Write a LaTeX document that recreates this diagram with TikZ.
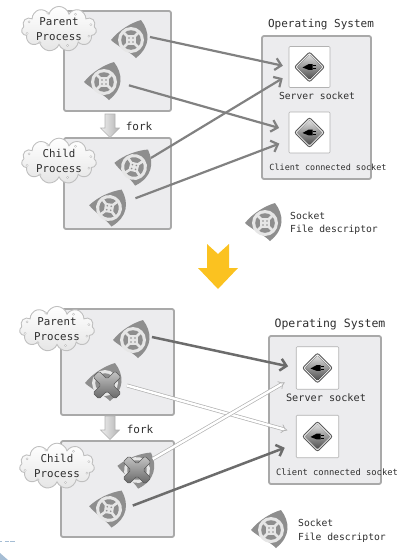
\documentclass[tikz,border=0pt]{standalone}
\usepackage{fontspec}
\setmonofont{DejaVu Sans Mono}
\usetikzlibrary{arrows.meta,shapes.symbols}
\definecolor{panelfill}{HTML}{ECECEE}
\definecolor{panelline}{HTML}{A9A9A9}
\definecolor{fdgray}{HTML}{8E8E8E}
\definecolor{fdlight}{HTML}{E6E6E6}
\definecolor{inkgray}{HTML}{2E2E2E}
\definecolor{linkgray}{HTML}{818181}
\definecolor{linkdark}{HTML}{6C6C6C}
\definecolor{orangearrow}{HTML}{FBC220}
\definecolor{cornerblue}{HTML}{A5BDD4}
\newcommand{\monosize}[1]{\fontsize{#1}{#1}\selectfont\ttfamily}
\tikzset{
  panel/.style={draw=panelline,line width=1.8pt,fill=panelfill,rounded corners=2pt},
  sockbox/.style={draw=gray!60,line width=.6pt,fill=white,rounded corners=1pt,inner sep=0pt,minimum size=41pt},
  procloud/.style={cloud,cloud puffs=11,cloud ignores aspect,draw=gray!50,line width=.9pt,top color=white,bottom color=gray!20,
    inner sep=0pt,minimum width=75pt,minimum height=43pt,align=center,text=inkgray,font=\monosize{10.8},
    execute at begin node={\baselineskip=15pt}},
  fdspot/.style={circle,inner sep=0pt,minimum size=38pt},
  txt/.style={text=inkgray,inner sep=0pt},
  link/.style={draw=linkgray,line width=2.2pt,-{Straight Barb[length=6pt,width=12pt]}},
  linkstrong/.style={link,draw=linkdark,line width=2.5pt},
  linkclosed/.style={draw=gray!60,line width=.7pt,double=white,double distance=2.4pt,-{Implies[length=7pt,width=13pt]}},
  cloudbeads/.pic={
    \foreach \a in {25,75,125,165,205,250,300,345} \draw[gray!50,fill=white,line width=.4pt] (\a:33 and 17) circle (1.1);
  },
  sockfd/.pic={
    \fill[fdgray] (-20,0) .. controls (-12,-10) and (0,-17) .. (10,-20) .. controls (19,-8) and (20,6) .. (5,18)
      .. controls (-2,11) and (-14,6) .. (-20,0);
    \fill[fdlight] (0,0) circle (13);
    \fill[fdgray] (0,0) circle (9.8);
    \draw[fdlight,line width=2.6pt] (-8,-8) -- (8,8) (-8,8) -- (8,-8);
    \fill[fdlight] (-4.6,-4.6) rectangle (4.6,4.6);
    \foreach \i/\j in {-2/-2,-2/2,2/-2,2/2} \fill[fdgray] (\i,\j) circle (.9);
  },
  crossmark/.pic={
    \draw[rounded corners=1.5pt,draw=gray!70!black,line width=.5pt,top color=gray!45,bottom color=gray!80!black]
      (-14,-8) -- (-8,-14) -- (0,-6) -- (8,-14) -- (14,-8) -- (6,0) -- (14,8) -- (8,14) -- (0,6) -- (-8,14) -- (-14,8) -- (-6,0) -- cycle;
  },
  plugmark/.pic={
    \draw[rounded corners=2pt,line width=.9pt,draw=gray!70!black,fill=gray!15] (-15,0) -- (0,-15) -- (15,0) -- (0,15) -- cycle;
    \fill[rounded corners=1pt,top color=gray!25,bottom color=gray!60!black] (-12.5,0) -- (0,-12.5) -- (12.5,0) -- (0,12.5) -- cycle;
    \fill[black] (-7,.5) -- (-1,-2.8) -- (3,-2.8) -- (3,2.8) -- (-1,2.8) -- cycle;
    \draw[black,line width=.6pt] (3,-1.5) -- (6,-1.5) (3,1.5) -- (6,1.5);
  },
  forkmark/.pic={
    \draw[draw=gray!60,line width=.6pt,left color=gray!12,right color=gray!60]
      (-5,0) -- (5,0) -- (5,14) -- (9.5,14) -- (0,23.5) -- (-9.5,14) -- (-5,14) -- cycle;
  }
}
\begin{document}
\begin{tikzpicture}[x=1pt,y=-1pt]
\useasboundingbox (0,0) rectangle (406,560);
% page leftovers at the lower edge
\foreach \x/\xx in {0/2,5/9,10/15} \fill[cornerblue] (\x,540.6) rectangle (\xx,541.6);
\fill[cornerblue] (0,553) -- (8,560) -- (0,560) -- cycle;
% upper situation
\draw[panel] (64,11) rectangle (171,111);
\draw[panel] (64,138) rectangle (171,229);
\draw[panel] (262,36) rectangle (371,179);
\node[procloud] (cloudparentA) at (59,29) {Parent\\Process};
\node[procloud] (cloudchildA) at (59,161) {Child\\Process};
\pic at (cloudparentA) {cloudbeads};
\pic at (cloudchildA) {cloudbeads};
\pic at (110,114) {forkmark};
\node[txt,font=\monosize{11}] (forkA) at (139,126) {fork};
\node[txt,font=\monosize{11}] (osA) at (321,25) {Operating System};
\node[sockbox] (srvA) at (309.5,67) {};
\node[sockbox] (cliA) at (309.5,132.5) {};
\pic at (srvA) {plugmark};
\pic at (cliA) {plugmark};
\node[txt,font=\monosize{9.7}] (srvtxtA) at (317,96) {Server socket};
\node[txt,font=\monosize{8.45}] (clitxtA) at (328,167) {Client connected socket};
\foreach \nm/\x/\y/\r in {fdpA/131/40/0,fdqA/104/82/0,fdrA/134/167/-12,fdsA/109/208/-8,fdkA/265/223/0} {
  \node[fdspot] (\nm) at (\x,\y) {};
  \pic[rotate=\r] at (\x,\y) {sockfd};
}
\node[txt,anchor=west,font=\monosize{9.7}] (keyaA) at (290,216) {Socket};
\node[txt,anchor=west,font=\monosize{9.7}] (keybA) at (290,230) {File descriptor};
\draw[link,shorten >=6pt] (fdpA.9) -- (srvA.west);
\draw[link,shorten <=6pt,shorten >=10pt] (fdqA.-5) -- (cliA.175);
\draw[link,shorten >=7pt] (fdrA.28) -- (srvA.200);
\draw[link,shorten <=9pt,shorten >=10pt] (fdsA.20) -- (cliA.200);
% the big arrow between both
\fill[orangearrow] (207,244) -- (218,254) -- (229,244) -- (229,268) -- (238,268) -- (218,289) -- (198,268) -- (207,268) -- cycle;
% lower situation
\draw[panel] (61,309) rectangle (174,415);
\draw[panel] (61,441) rectangle (174,537);
\draw[panel] (269,336) rectangle (381,484);
\node[procloud] (cloudparentB) at (57,329) {Parent\\Process};
\node[procloud] (cloudchildB) at (57,466) {Child\\Process};
\pic at (cloudparentB) {cloudbeads};
\pic at (cloudchildB) {cloudbeads};
\pic at (110,416) {forkmark};
\node[txt,font=\monosize{11}] (forkB) at (140,429) {fork};
\node[txt,font=\monosize{11.5}] (osB) at (330,324) {Operating System};
\node[sockbox,minimum size=42.5pt] (srvB) at (317.5,368) {};
\node[sockbox,minimum size=42.5pt] (cliB) at (317.5,436.5) {};
\pic at (srvB) {plugmark};
\pic at (cliB) {plugmark};
\node[txt,font=\monosize{10.2}] (srvtxtB) at (326,398) {Server socket};
\node[txt,font=\monosize{8.8}] (clitxtB) at (337,472) {Client connected socket};
\foreach \nm/\x/\y/\r in {fdpB/133/340/0,fdqB/105/383/0,fdrB/137/470/-12,fdsB/109/509/-8,fdkB/271/530/0} {
  \node[fdspot] (\nm) at (\x,\y) {};
  \pic[rotate=\r] at (\x,\y) {sockfd};
}
\pic at (107,385) {crossmark};
\pic at (137,470) {crossmark};
\node[txt,anchor=west,font=\monosize{9.7}] (keyaB) at (298,523) {Socket};
\node[txt,anchor=west,font=\monosize{9.7}] (keybB) at (298,538) {File descriptor};
\draw[linkstrong,shorten >=8pt] (fdpB.9) -- (srvB.west);
\draw[linkclosed,shorten <=3pt,shorten >=9pt] (fdqB.-5) -- (cliB.170);
\draw[linkclosed,shorten >=13pt] (fdrB.35) -- (srvB.200);
\draw[linkstrong,shorten <=5pt,shorten >=12pt] (fdsB.5) -- (cliB.198);
\end{tikzpicture}
\end{document}
